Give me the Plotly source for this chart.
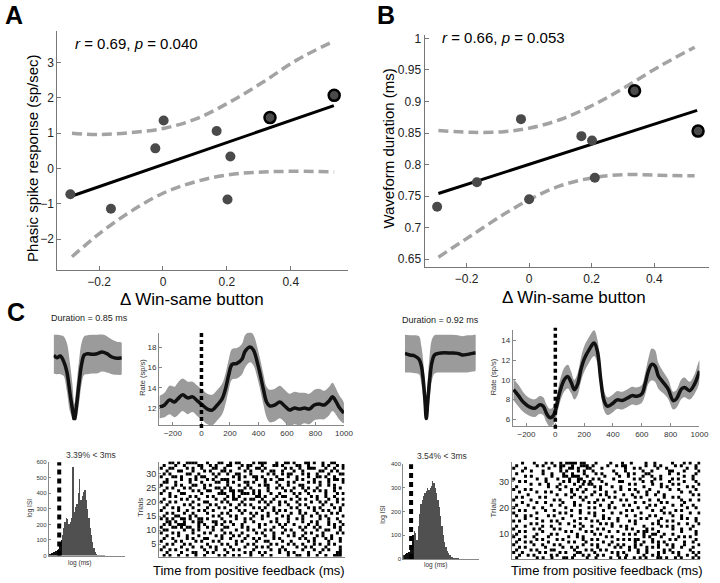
import plotly.graph_objects as go

FONT = "Liberation Sans, Arial, sans-serif"
W, H = 720, 583

# ---------------- Panel A data ----------------
a_x = [-0.29, -0.163, -0.024, 0.002, 0.168, 0.211, 0.202, 0.335, 0.536]
a_y = [-0.73, -1.14, 0.57, 1.36, 1.06, 0.34, -0.88, 1.44, 2.07]
a_fit_x = [-0.285, 0.535]
a_fit_y = [-0.78, 1.78]
a_ci_x = [-0.285, -0.2, -0.098, 0.005, 0.108, 0.211, 0.314, 0.417, 0.536]
a_ci_hi = [1.0, 0.96, 1.02, 1.14, 1.42, 1.89, 2.45, 3.06, 3.61]
a_ci_lo = [-2.50, -1.85, -1.20, -0.68, -0.36, -0.17, -0.10, -0.08, -0.10]

# ---------------- Panel B data ----------------
b_x = [-0.294, -0.167, -0.026, 0.0, 0.167, 0.201, 0.21, 0.337, 0.540]
b_y = [0.733, 0.772, 0.872, 0.745, 0.845, 0.838, 0.779, 0.917, 0.853]
b_fit_x = [-0.29, 0.537]
b_fit_y = [0.754, 0.886]
b_ci_x = [-0.29, -0.186, -0.081, 0.003, 0.098, 0.203, 0.308, 0.414, 0.529]
b_ci_hi = [0.854, 0.851, 0.852, 0.858, 0.871, 0.894, 0.923, 0.955, 0.986]
b_ci_lo = [0.653, 0.687, 0.721, 0.745, 0.766, 0.779, 0.784, 0.783, 0.782]

# example neurons (shown in C) are outlined
highlight = [0, 0, 0, 0, 0, 0, 0, 1, 1]

# ---------------- Panel C: waveforms ----------------
wl_x = [0, 1, 2, 3, 4, 5, 5.7, 6.3, 6.9, 7.7, 8.5, 9.3, 10.3, 11.7, 13.2, 14.7, 16.2, 17.7, 19.2, 20.7]
wl_mean = [-1.5, -5, -2.5, -10, -26, -60, -82.5, -99, -80, -45, -15, -1, 1, 0, 1, 3.5, 1, -4, -6, -5]
wl_hi = [30, 30, 29, 27.5, 17.5, -15, -45, -75, -50, -10, 17.5, 27.5, 29, 30, 30, 31, 27.5, 22.5, 19, 17.5]
wl_lo = [-29, -30, -30, -32.5, -55, -87.5, -95, -100, -97.5, -75, -45, -31, -30, -29, -29, -26, -27.5, -30, -31, -30]

wr_x = [0, 1.5, 3, 4.3, 5, 5.6, 6.1, 6.5, 7, 7.6, 8.2, 9, 10.2, 12, 14, 16, 17.5, 19, 20.5, 21.5]
wr_mean = [1.5, -1, -2.5, -7.5, -17.5, -40, -70, -97.5, -67.5, -35, -12.5, -1, 1.5, 2.5, 2, 1.5, -1, 0, 1.5, 2.5]
wr_hi = [30, 29, 29, 27.5, 12.5, -12.5, -45, -80, -35, 2.5, 22.5, 29, 30, 30, 30, 29, 27.5, 29, 29, 30]
wr_lo = [-27.5, -27.5, -28.5, -30, -45, -67.5, -90, -100, -92.5, -65, -40, -29, -27.5, -27.5, -27.5, -27.5, -27.5, -27.5, -26, -25]

# ---------------- Panel C: firing rates ----------------
rl_t = [-293, -259, -224, -189, -166, -132, -97, -62, -28, 7, 42, 76, 111, 145, 169, 192, 215, 249, 284, 307,
        342, 365, 399, 434, 457, 480, 515, 550, 584, 619, 653, 688, 723, 757, 792, 827, 861, 896, 919, 942, 965, 1000]
rl_r = [12.1, 12.3, 12.8, 12.6, 12.9, 13.3, 13.0, 13.1, 12.7, 12.3, 11.9, 11.8, 12.3, 12.9, 13.9, 15.3, 16.3, 16.4,
        16.8, 17.6, 18.0, 17.7, 16.1, 13.9, 12.6, 12.2, 12.3, 12.6, 12.2, 11.8, 12.0, 11.9, 12.0, 11.9, 12.3, 12.4,
        12.3, 12.7, 13.1, 12.7, 12.1, 11.5]
rl_sem = [1.1, 1.2, 1.4, 1.5, 1.6, 1.6, 1.6, 1.5, 1.5, 1.5, 1.5, 1.5, 1.5, 1.5, 1.5, 1.5, 1.5, 1.5, 1.5, 1.6, 1.5,
          1.5, 1.5, 1.5, 1.5, 1.6, 1.6, 1.6, 1.6, 1.6, 1.6, 1.6, 1.5, 1.5, 1.5, 1.5, 1.4, 1.4, 1.4, 1.3, 1.2, 1.0]

rr_t = [-290, -256, -221, -176, -142, -107, -84, -62, -39, -16, 7, 30, 64, 87, 110, 132, 155, 178, 201, 235, 269,
        292, 315, 338, 361, 395, 429, 463, 498, 532, 566, 600, 623, 646, 669, 692, 715, 749, 783, 818, 840, 875,
        897, 932, 966, 1000]
rr_r = [9.0, 8.4, 7.73, 7.23, 7.13, 7.47, 7.33, 6.63, 6.17, 6.33, 7.23, 8.73, 10.07, 10.33, 9.73, 9.0, 9.57, 11.07,
        12.13, 13.07, 13.73, 12.9, 10.07, 7.9, 7.33, 7.57, 7.97, 7.9, 8.13, 8.4, 8.33, 8.57, 9.57, 10.9, 11.57, 11.4,
        10.4, 9.73, 9.07, 7.9, 8.07, 9.07, 9.23, 8.9, 9.57, 10.9]
rr_sem = [1.1, 1.1, 1.0, 0.9, 0.9, 0.9, 0.9, 0.9, 0.9, 0.9, 1.0, 1.1, 1.2, 1.2, 1.1, 1.0, 1.1, 1.2, 1.3, 1.3, 1.3,
          1.2, 1.1, 1.0, 0.9, 0.9, 0.9, 0.9, 0.9, 0.9, 0.9, 0.9, 1.1, 1.3, 1.6, 1.6, 1.3, 1.1, 1.0, 0.9, 0.9, 1.0,
          1.0, 0.9, 1.0, 1.1]

# ---------------- Panel C: ISI histograms (counts per log-ISI bin) ----------------
hl_counts = [8, 10, 15, 20, 25, 30, 35, 45, 70, 100, 130, 175, 215, 240, 235, 205, 215, 240, 570, 280, 310, 330,
             400, 490, 360, 380, 410, 420, 360, 300, 240, 180, 130, 85, 50, 25, 12, 6, 4, 3, 2, 1, 1]
hl_cut = 7.5          # 3 ms bin
hr_counts = [15, 20, 25, 25, 30, 40, 50, 100, 120, 110, 80, 140, 190, 230, 250, 265, 280, 285, 300, 290, 300, 310,
             330, 320, 300, 280, 250, 220, 180, 140, 100, 70, 50, 35, 25, 15, 10, 6, 4, 3, 2, 2, 1, 1, 1]
hr_cut = 5.5

# ---------------- Panel C: rasters (one string per trial, top trial first; 'x' = spike) ----------------
raster_left = [
    "...xx.x..xxxx...x...xx..x.xx....x.xxx...x..xx.x...xx.x..x..xx...",
    ".x...x..x....xx..x.x...xx...x.xx...x...xx.x....xx..x....x.x..x.x",
    "x..xx....x.x..x...xx..x....x..x..xx.x......x.x..x..xxx...x..x..x",
    "..x...xx...x...x.x...xx.x....x.x...x..xx..x...x..x.....xx..x.x..",
    ".x.x.....xx..x....x.x..x..xx...x.....x.x..x.xx...x.x..x...x...xx",
    "x...xx.x....x.xx...x.....x.x.x..xx.x....x...x..x...x..xx.x..x...",
    "..x....x..x.x...x.x..xxx...x.....x..x.x..xx....x.x...x....x.xx.x",
    ".xx..x....x...x....xx..x.x...xx.x...x...x...x.x....x.x.x..x....x",
    "x....x.x...xx..x.x.....x...x..x...x.xx...x..x...xx.....x..x.x...",
    "..x.x...x.x....x...xx.x.x....x.x.....x..x.x...x..x.x..x.....x.x.",
    ".x....x....x.x..xx...x..xx.xx...x.x..x.....x.x....x..x.x.x..x...",
    "x..x...xx.....x.....xxx..x..xxx.x.x...x..x....x.x..x.....x...x.x",
    "...x.x....x.x...x.x....x.x.x.....xx.x...x.xx...x....x.x..x..x...",
    ".x.....x.x...x.....x..x..xx..x.xx..x...x.....x..x.x...x...x..x.x",
    "x..x.x.....x...xx....x.x....x.....x.x.x..x.x...x....x..x.x...x..",
    "..x.....x.x..x...x.x....x..x.x.x.....x...x..x...x.x.....x..x...x",
    ".x..x.x....x....x...x.x...x.....x.x.x..x.....x.x...x.x.x....x.x.",
    "x.....x..x...x.x..x.....x..x.x.....x...x.x.x....x....x..x.x...x.",
    "..x.x...x..x....x....x.x....x..x.x...x..x....x..x.x...x....x.x..",
    ".x...xx...x.x.....x.x...x.x.....x..x.x....x.x....x..x..x.x.....x",
    "x.x.x..xx.x..xx.x....x....x..x.x...x....x...x..x.x.....x..x..x..",
    "..xx.x..x..x.xx...xx..x.x....x..x.....x.x...x....x..x.x...x...x.",
    ".x.x..xxx....x.x...x.x...x..x.....x.x....x.x..x....x..x...x.x..x",
    "x...xx.x.xx..x..x.x...xx....x.x...x....x..x.....x.x..x.x....x.x.",
    ".xx.....x..x.x....x..x....x...x.x...x.x....x.x...x....x..xx...x.",
    "x...x.x....x...x.x....x.x...x....x.x...x..x...x...x.x...x....x.x",
    "..x...x..x...x.....x.x...x.x..x.....x..x....x.x..x....x.x..x....",
    ".x..x....x.x...xx....x..x....x..x.x....x.x......x.x..x...x.x..x.",
    "x....x.x....x.x...x.x.....x.x....x..xx....x..x.....x.x....x...x.",
    "..x.x...x.x.....x....x.x..x...x.x.....x.x...x.x..x...x.x..x.x...",
    ".x.....x...x..x..x.x....x....x...x.x.x....x....x..x.x....x....x.",
    "x..x.x...x.....x...x..x..x.x....x.....x..x.x.....x...x..x.x...x.",
    "..x....x...xx...x.x....x.....x.x..x.x....x..x.x....x...x.....xx.",
    ".x.x..x..x..x..x....x.x..x.x...x...x..x.....x..xx..x..x..x..xxx.",
]
raster_right = [
    "...x...x...x.x..x.xxxx.xx...x....x...x..x....x..x.....x...x.x..x",
    ".x......x.x...x.xx..x..xxx.x....x..x.xx......x..x.x....x.x....x.",
    "x...x.......x...x..xx.x..xx...x.......x..x.x.....x..x......x..x.",
    "...x..x...x.....x.x...x.x..x......x...x.....x..x.....xx...x....x",
    ".x........x..x...x..x...x...x.x....x...x.x...xx......x..x.....x.",
    "....x.x......x...xx.xxx..x.....x....x..x....x..x..x.......x..x..",
    "x.......x..x...x...x..xx...x.x....x......x.x....x.x...x.x....x..",
    "..x.x......x.....x.x..x.x.x...x.....xx......x..x.....x....x...x.",
    "......x..x..x...x....x..x.xx....x.......x.x.....x..x...x.x......x",
    ".x..........x..x..x....x....x.x...x..x.......x.....x.x......x.x..",
    "x...x.x.........x...x.x..x....x......x..x.x....x......x..x.....x.",
    "..x.....x..x.x......x...x...x...x..x.......x..x...x.......x..x...",
    ".....x.........x..x..x.....x..x.x.....x..x....x..x..x.........x.x",
    ".x.x.....x.x........x..x.x.......x.x......x.x.......x..x.x.......",
    "x.....x.......x.x.......x....x.x.....x.x.......x..x.......x..x..x",
    "...x....x..x.....x...x....x.x.....x.......x..x.....x.x.....x.....",
    ".x...x.......x..x....x.x......x..x....x.x......x.x.....x..x...x..",
    "x......x..x.......x.......x.x....x.x.......x..x.....x.......x..x.",
    "..x.x......x..x.....x..x.......x.......x.x......x..x....x.x......",
    "x.......x.......x.x....x..x.x.....x..x......x.......x.x......x..x",
    ".x..x.x.....x.x.....x.......x..x.......x..x....x.x.....x..x......",
    "....x...x........x.....x.x.....x.x..x.......x.x....x......x.x..x.",
    "x.x.......x..x.x.....x.....x.x......x...x.x.......x..x.x.......x.",
    "......x.x.......x..x...x......x.x.x.......x.....x.x......x..x...x",
    ".x..x.....x..x.......x..x..x......x..x.x.....x.....x.x.x......x..",
    "x......x.x....x.x......x.....x.x.......x.x....x.x......x..x..x...",
    "..x.x.....x.......x.x....x.x.....x..x......x.xx...x.......x....x.",
    ".x......x....x.x......x.....x.x.......x.x.x..x..xx..x..x.......x.",
    "x...x..x....x......x..x.x.......x.x..........x.x...x.....x.x.x...",
    "..x.....x.x....x.x......x..x.x......x.x.x.xx....x.....x.x......x.",
    ".x..x.x.....x......x.x...x.....x..x.......x..x..x.x.x......x..x..",
    "x......x..x...x.x.......x..x.x...x..x.x...x.x.....x..x.x...x....x",
    "..x.x......x.....x..x.x......x.....x.x..x.x...x.x.x....x..x...x..",
    ".x....x.x....xx......x...x.x..x.x.......x..x..x.....x.x......x...",
    "x..x.....x.x....x.x...xx....x.....x.x.x....x..x...x.x..x.x....x.x",
    "..x..x.x.....x.x.....x..x.x..x.x....x..x.....x..x.x......x..x..x.",
    ".x......x.x..x...xx.x....x..x....x..x.x..x.x.x...xx.x..x.x...x.x",
]
RASTER_T0, RASTER_T1 = -292, 1000

# ======================================================================
fig = go.Figure()
layout_axes = {}


def X(px):
    return px / W


def Y(py):
    return 1 - py / H


def ax_names(n):
    return ("xaxis" if n == 1 else f"xaxis{n}", "yaxis" if n == 1 else f"yaxis{n}",
            "x" if n == 1 else f"x{n}", "y" if n == 1 else f"y{n}")


def add_axes(n, x0, x1, ytop, ybot, xopts, yopts, line="#777", tickfont=12, tcol="#222", ticklen=4):
    xs, ys, xa, ya = ax_names(n)
    base = dict(showgrid=False, zeroline=False, showline=True, linecolor=line, linewidth=1,
                ticks="inside", ticklen=ticklen, tickcolor=line, mirror=False,
                ticklabeloverflow="allow",
                tickfont=dict(family=FONT, size=tickfont, color=tcol), fixedrange=True)
    xd = dict(base); xd.update(domain=[X(x0), X(x1)], anchor=ya); xd.update(xopts)
    yd = dict(base); yd.update(domain=[Y(ybot), Y(ytop)], anchor=xa); yd.update(yopts)
    layout_axes[xs] = xd
    layout_axes[ys] = yd
    return xa, ya


# ---- A ----
xa, ya = add_axes(1, 58, 352, 28, 270,
                  dict(range=[-0.331, 0.578], tickvals=[-0.2, 0, 0.2, 0.4]),
                  dict(range=[-2.88, 3.90], tickvals=[-2, -1, 0, 1, 2, 3]))
# ---- B ----
xb, yb = add_axes(2, 430, 718, 32, 267,
                  dict(range=[-0.334, 0.575], tickvals=[-0.2, 0, 0.2, 0.4]),
                  dict(range=[0.637, 1.006], tickvals=[0.65, 0.7, 0.75, 0.8, 0.85, 0.9, 0.95, 1.0],
                       ticktext=["0.65", "0.7", "0.75", "0.8", "0.85", "0.9", "0.95", "1"]))

for (xs_, ys_, fx, fy, cx, chi, clo, xa_, ya_) in [
        (a_x, a_y, a_fit_x, a_fit_y, a_ci_x, a_ci_hi, a_ci_lo, xa, ya),
        (b_x, b_y, b_fit_x, b_fit_y, b_ci_x, b_ci_hi, b_ci_lo, xb, yb)]:
    for arr in (chi, clo):
        fig.add_trace(go.Scatter(x=cx, y=arr, mode="lines", xaxis=xa_, yaxis=ya_,
                                 line=dict(color="#a3a3a3", width=3.5, dash="10px,5px", shape="spline"),
                                 hoverinfo="skip", showlegend=False))
    fig.add_trace(go.Scatter(x=fx, y=fy, mode="lines", xaxis=xa_, yaxis=ya_,
                             line=dict(color="black", width=3), showlegend=False))
    fig.add_trace(go.Scatter(x=xs_, y=ys_, mode="markers", xaxis=xa_, yaxis=ya_,
                             marker=dict(color="#4a4a4a", opacity=1,
                                         size=[11 if h else 10 for h in highlight],
                                         line=dict(color="black", width=[2.5 if h else 0 for h in highlight])),
                             showlegend=False))

# ---- waveforms ----
for n, (wx, wm, wh, wl, x0, x1) in zip([3, 7], [(wl_x, wl_mean, wl_hi, wl_lo, 54.3, 123.3),
                                              (wr_x, wr_mean, wr_hi, wr_lo, 410, 481.7)]):
    xw, yw = add_axes(n, x0, x1, 335, 421.7,
                      dict(visible=False, range=[wx[0], wx[-1]]),
                      dict(visible=False, range=[-100, 30]))
    fig.add_trace(go.Scatter(x=wx + wx[::-1], y=wh + wl[::-1], mode="lines", fill="toself",
                             fillcolor="#9b9b9b", line=dict(width=0, shape="spline"), xaxis=xw, yaxis=yw,
                             hoverinfo="skip", showlegend=False))
    fig.add_trace(go.Scatter(x=wx, y=wm, mode="lines", line=dict(color="#111", width=3.5, shape="spline"),
                             xaxis=xw, yaxis=yw, showlegend=False))

# ---- rate plots ----
rate_specs = [
    (4, rl_t, rl_r, rl_sem, 161, 348.3, 333.3, 426.7, [-298, 1000], [10.3, 19.4], [12, 14, 16, 18]),
    (8, rr_t, rr_r, rr_sem, 519.3, 708.3, 330, 427.3, [-295, 1000], [5.33, 15.1], [6, 8, 10, 12, 14]),
]
for n, t, r, s, x0, x1, yt, ybm, xr, yr, yt_vals in rate_specs:
    xr_, yr_ = add_axes(n, x0, x1, yt, ybm,
                        dict(range=xr, tickvals=[-200, 0, 200, 400, 600, 800, 1000]),
                        dict(range=yr, tickvals=yt_vals),
                        line="#888", tickfont=8, tcol="#333", ticklen=3)
    hi = [a + b for a, b in zip(r, s)]
    lo = [a - b for a, b in zip(r, s)]
    fig.add_trace(go.Scatter(x=t + t[::-1], y=hi + lo[::-1], mode="lines", fill="toself",
                             fillcolor="#9b9b9b", line=dict(width=0, shape="spline"), xaxis=xr_, yaxis=yr_,
                             hoverinfo="skip", showlegend=False))
    fig.add_trace(go.Scatter(x=t, y=r, mode="lines", line=dict(color="#111", width=3.5, shape="spline"),
                             xaxis=xr_, yaxis=yr_, showlegend=False))
    fig.add_shape(type="line", xref=xr_, yref=f"{yr_} domain", x0=0, x1=0, y0=-0.03, y1=1.02,
                  line=dict(color="black", width=3.5, dash="4px,3px"))

# ---- ISI histograms ----
hist_specs = [
    (5, hl_counts, hl_cut, 49.3, 126.7, 464, 558.3, [-0.5, 57.5], [0, 600], [0, 100, 200, 300, 400, 500, 600]),
    (9, hr_counts, hr_cut, 408.3, 485, 466, 561.7, [-0.5, 57.0], [0, 400], [0, 100, 200, 300, 400]),
]
for n, counts, cut, x0, x1, yt, ybm, xr, yr, yt_vals in hist_specs:
    xh, yh = add_axes(n, x0, x1, yt, ybm,
                      dict(range=xr, showticklabels=False, ticks=""),
                      dict(range=yr, tickvals=yt_vals),
                      line="#888", tickfont=6, tcol="#333", ticklen=2)
    idx = list(range(len(counts)))
    colors = ["#111111" if i < cut + 2.5 else "#505050" for i in idx]
    fig.add_trace(go.Bar(x=idx, y=counts, xaxis=xh, yaxis=yh, marker=dict(color=colors, line=dict(width=0)),
                         width=1.0, showlegend=False))
    fig.add_shape(type="line", xref=xh, yref=f"{yh} domain", x0=cut, x1=cut, y0=0, y1=1.0,
                  line=dict(color="black", width=4, dash="5px,4px"))

# ---- rasters ----
raster_specs = [
    (6, raster_left, 161, 349, 463.3, 559.3, [-298, 1000], [0.6, 34.4], [5, 10, 15, 20, 25, 30]),
    (10, raster_right, 518.3, 709.3, 463.3, 561.7, [-295, 1000], [0.6, 37.6], [10, 20, 30]),
]
for n, rows, x0, x1, yt, ybm, xr, yr, yt_vals in raster_specs:
    xq, yq = add_axes(n, x0, x1, yt, ybm,
                      dict(range=xr, showticklabels=False, ticks=""),
                      dict(range=yr, tickvals=yt_vals),
                      line="#888", tickfont=9, tcol="#333", ticklen=2)
    px_, py_ = [], []
    ntr = len(rows)
    for k, row in enumerate(rows):
        trial = ntr - k
        bw = (RASTER_T1 - RASTER_T0) / len(row)
        for j, ch in enumerate(row):
            if ch == "x":
                px_.append(RASTER_T0 + (j + 0.5) * bw)
                py_.append(trial)
    fig.add_trace(go.Scatter(x=px_, y=py_, mode="markers", xaxis=xq, yaxis=yq,
                             marker=dict(symbol="square", size=3.0, color="black", line=dict(width=0)),
                             showlegend=False))

# ---- annotations ----
anns = []


def ann(text, x, y, size, angle=0, xanchor="center", yanchor="middle", color="black"):
    anns.append(dict(text=text, x=X(x), y=Y(y), xref="paper", yref="paper", showarrow=False,
                     xanchor=xanchor, yanchor=yanchor, textangle=angle,
                     font=dict(family=FONT, size=size, color=color)))


ann("<b>A</b>", 3, 12, 25, xanchor="left")
ann("<b>B</b>", 380, 12, 25, xanchor="left")
ann("<b>C</b>", 5, 312, 25, xanchor="left")
ann("<i>r</i> = 0.69, <i>p</i> = 0.040", 74, 41, 15, xanchor="left")
ann("<i>r</i> = 0.66, <i>p</i> = 0.053", 446, 35, 15, xanchor="left")
ann("Phasic spike response (sp/sec)", 33, 157, 15, angle=-90)
ann("Waveform duration (ms)", 393, 147, 15, angle=-90)
ann("Δ Win-same button", 194, 300, 17)
ann("Δ Win-same button", 581, 298, 17)
ann("Duration = 0.85 ms", 91, 318, 9, color="#222")
ann("Duration = 0.92 ms", 446, 320, 9, color="#222")
ann("Rate (sp/s)", 143.5, 378, 7.5, angle=-90, color="#333")
ann("Rate (sp/s)", 499.5, 378, 7.5, angle=-90, color="#333")
ann("3.39% &lt; 3ms", 92.5, 456.5, 8.5, color="#333")
ann("3.54% &lt; 3ms", 448, 457.5, 8.5, color="#333")
ann("log ISI", 30, 510, 6.5, angle=-90, color="#333")
ann("log ISI", 388, 517, 6.5, angle=-90, color="#333")
ann("log (ms)", 80, 566, 6.5, color="#333")
ann("log (ms)", 441, 568, 6.5, color="#333")
ann("Trials", 143, 510, 8, angle=-90, color="#333")
ann("Trials", 500, 510, 8, angle=-90, color="#333")
ann("Time from positive feedback (ms)", 252, 573, 13)
ann("Time from positive feedback (ms)", 615, 573, 13)

fig.update_layout(width=W, height=H, autosize=False, margin=dict(l=0, r=0, t=0, b=0, pad=0),
                  paper_bgcolor="white", plot_bgcolor="rgba(0,0,0,0)", showlegend=False,
                  font=dict(family=FONT), annotations=anns, bargap=0, **layout_axes)
fig.write_html("out.html", config={"displayModeBar": False, "staticPlot": True},
               post_script="document.body.style.margin='0';document.body.style.padding='0';"
                           "document.body.style.overflow='hidden';")
